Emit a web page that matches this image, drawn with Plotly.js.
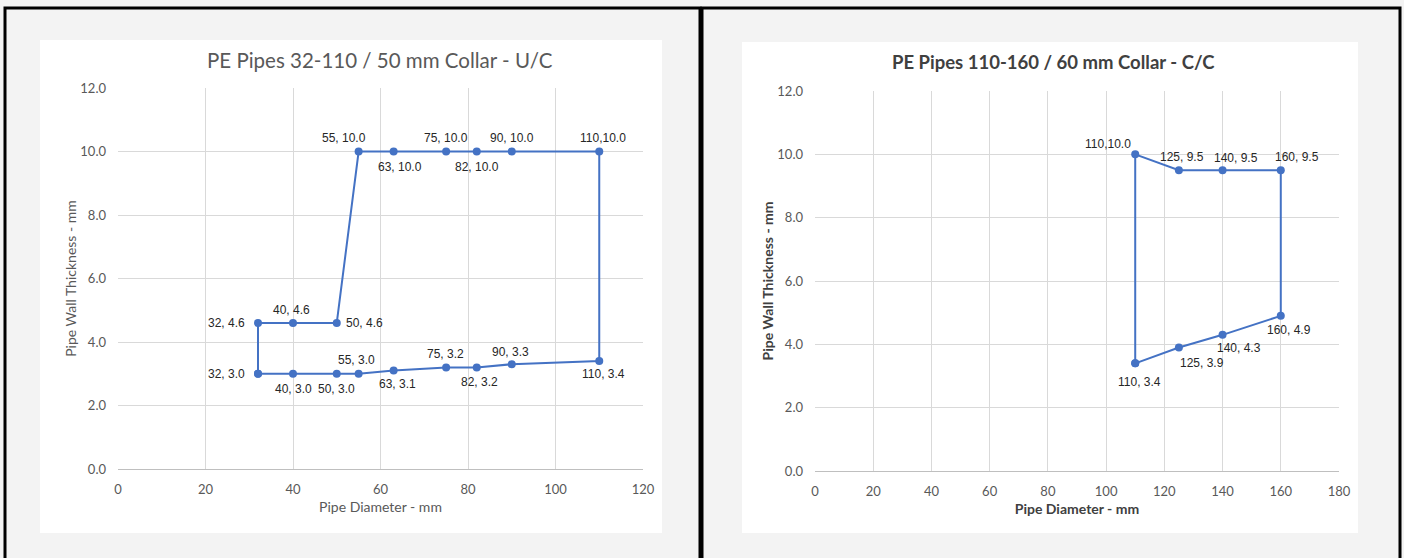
<!DOCTYPE html>
<html>
<head>
<meta charset="utf-8">
<script src="https://cdn.plot.ly/plotly-3.0.1.min.js"></script>
<style>
html,body{margin:0;padding:0;background:#f3f3f3;}
#chart{width:1404px;height:558px;}
</style>
</head>
<body>
<div id="chart"></div>
<script>
// ---- Data: chart 1 (PE Pipes 32-110 / 50 mm Collar - U/C), in path order ----
const uc_diameter = [32, 32, 40, 50, 55, 63, 75, 82, 90, 110, 110, 90, 82, 75, 63, 55, 50, 40, 32];
const uc_thickness = [3.0, 4.6, 4.6, 4.6, 10.0, 10.0, 10.0, 10.0, 10.0, 10.0, 3.4, 3.3, 3.2, 3.2, 3.1, 3.0, 3.0, 3.0, 3.0];
const uc_labels = ["32, 3.0", "32, 4.6", "40, 4.6", "50, 4.6", "55, 10.0", "63, 10.0", "75, 10.0", "82, 10.0", "90, 10.0", "110,10.0",
                   "110, 3.4", "90, 3.3", "82, 3.2", "75, 3.2", "63, 3.1", "55, 3.0", "50, 3.0", "40, 3.0", ""];

// ---- Data: chart 2 (PE Pipes 110-160 / 60 mm Collar - C/C), in path order ----
const cc_diameter = [110, 110, 125, 140, 160, 160, 140, 125, 110];
const cc_thickness = [3.4, 10.0, 9.5, 9.5, 9.5, 4.9, 4.3, 3.9, 3.4];
const cc_labels = ["110, 3.4", "110,10.0", "125, 9.5", "140, 9.5", "160, 9.5", "160, 4.9", "140, 4.3", "125, 3.9", ""];

// ---- Axis ticks ----
const y_ticks = [0, 2, 4, 6, 8, 10, 12];
const x1_ticks = [0, 20, 40, 60, 80, 100, 120];
const x2_ticks = [0, 20, 40, 60, 80, 100, 120, 140, 160, 180];

// ---- Styles: data-label offsets in pixels [dx, dy] (dy positive = up) ----
const uc_offsets = [[-32, 0], [-32, 0], [-2, 13], [28, 0], [-15, 14], [6, -15], [0, 14], [0, -15], [0, 14], [4, 14],
                    [4, -13], [-1, 12], [3, -15], [-1, 13], [4, -13], [-2, 14], [0, -15], [0, -15], [0, 0]];
const cc_offsets = [[4, -19], [-27, 10], [3, 13], [13, 12], [16, 13], [8, -14], [16, -13], [23, -15], [0, 0]];

const W = 1404, H = 558;
const px = v => v / W;
const py = v => (H - v) / H;

const BLUE = '#4472C4';
const SANS = 'Lato, "Open Sans", sans-serif';
const TICKFONT = {family: SANS, size: 13, color: '#595959'};
const LABFONT = {family: '"Liberation Sans", Arial, sans-serif', size: 12, color: '#262626'};

const traces = [
  {
    type: 'scatter', mode: 'lines+markers',
    x: uc_diameter, y: uc_thickness,
    line: {color: BLUE, width: 2}, marker: {color: BLUE, size: 8},
    xaxis: 'x', yaxis: 'y', hoverinfo: 'x+y', showlegend: false
  },
  {
    type: 'scatter', mode: 'lines+markers',
    x: cc_diameter, y: cc_thickness,
    line: {color: BLUE, width: 2}, marker: {color: BLUE, size: 8},
    xaxis: 'x2', yaxis: 'y2', hoverinfo: 'x+y', showlegend: false
  }
];

function labelAnnotations(xs, ys, texts, offs, xref, yref) {
  const out = [];
  for (let i = 0; i < xs.length; i++) {
    if (!texts[i]) continue;
    out.push({
      xref: xref, yref: yref, x: xs[i], y: ys[i], text: texts[i], showarrow: false,
      xanchor: 'center', yanchor: 'middle', xshift: offs[i][0], yshift: offs[i][1],
      font: LABFONT
    });
  }
  return out;
}

function xAxis(domain, range, ticks, anchor, bold) {
  return {
    domain: domain, range: range, tickvals: ticks, ticktext: ticks.map(String),
    anchor: anchor, showgrid: true, gridcolor: '#d9d9d9', gridwidth: 1,
    zeroline: false, showline: true, linecolor: '#bfbfbf', linewidth: 1,
    ticks: '', tickfont: TICKFONT, fixedrange: true, ticklabelstandoff: 8,
    title: {text: bold ? '<b>Pipe Diameter - mm</b>' : 'Pipe Diameter - mm',
            font: {family: SANS, size: 14, color: bold ? '#404040' : '#595959'}, standoff: 6}
  };
}
function yAxis(domain, anchor, bold) {
  return {
    domain: domain, range: [0, 12], tickvals: y_ticks, ticktext: y_ticks.map(v => v.toFixed(1)),
    anchor: anchor, showgrid: true, gridcolor: '#d9d9d9', gridwidth: 1,
    zeroline: false, showline: false, ticks: '', tickfont: TICKFONT, fixedrange: true,
    ticklabelstandoff: 11,
    title: {text: bold ? '<b>Pipe Wall Thickness - mm</b>' : 'Pipe Wall Thickness - mm',
            font: {family: SANS, size: 14, color: bold ? '#404040' : '#595959'}, standoff: 0}
  };
}

const layout = {
  width: W, height: H,
  margin: {l: 0, r: 0, t: 0, b: 0},
  paper_bgcolor: '#f3f3f3', plot_bgcolor: 'rgba(0,0,0,0)',
  showlegend: false,
  xaxis: xAxis([px(118), px(643)], [0, 120], x1_ticks, 'y', false),
  yaxis: yAxis([py(469), py(88)], 'x', false),
  xaxis2: xAxis([px(815), px(1339)], [0, 180], x2_ticks, 'y2', true),
  yaxis2: yAxis([py(471), py(91)], 'x2', true),
  shapes: [
    {type: 'rect', xref: 'paper', yref: 'paper', x0: px(40), x1: px(662), y0: py(533), y1: py(40),
     fillcolor: '#ffffff', line: {width: 0}, layer: 'below'},
    {type: 'rect', xref: 'paper', yref: 'paper', x0: px(742), x1: px(1358), y0: py(533), y1: py(42),
     fillcolor: '#ffffff', line: {width: 0}, layer: 'below'},
    {type: 'rect', xref: 'paper', yref: 'paper', x0: px(5), x1: px(700), y0: py(565), y1: py(8),
     fillcolor: 'rgba(0,0,0,0)', line: {color: '#000000', width: 3}, layer: 'above'},
    {type: 'rect', xref: 'paper', yref: 'paper', x0: px(702), x1: px(1400), y0: py(565), y1: py(8),
     fillcolor: 'rgba(0,0,0,0)', line: {color: '#000000', width: 3}, layer: 'above'}
  ],
  annotations: [
    {xref: 'paper', yref: 'paper', x: px(380), y: py(60), xanchor: 'center', yanchor: 'middle', showarrow: false,
     text: 'PE Pipes 32-110 / 50 mm Collar - U/C',
     font: {family: SANS, size: 20.5, color: '#595959'}},
    {xref: 'paper', yref: 'paper', x: px(1053), y: py(62), xanchor: 'center', yanchor: 'middle', showarrow: false,
     text: '<b>PE Pipes 110-160 / 60 mm Collar - C/C</b>',
     font: {family: SANS, size: 18.5, color: '#404040'}}
  ].concat(
    labelAnnotations(uc_diameter, uc_thickness, uc_labels, uc_offsets, 'x', 'y'),
    labelAnnotations(cc_diameter, cc_thickness, cc_labels, cc_offsets, 'x2', 'y2')
  )
};

Plotly.newPlot('chart', traces, layout, {displayModeBar: false, staticPlot: true});
</script>
</body>
</html>
